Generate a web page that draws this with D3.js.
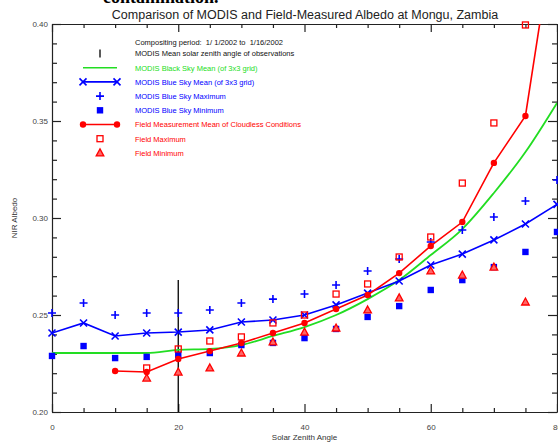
<!DOCTYPE html>
<html>
<head>
<meta charset="utf-8">
<script src="https://cdn.jsdelivr.net/npm/d3@7"></script>
<style>
  body { margin: 0; background: #fff; }
  svg { display: block; font-family: "Liberation Sans", Arial, sans-serif; }
</style>
</head>
<body>
<div id="chart"></div>
<script>
// data
const angles = [0, 5, 10, 15, 20, 25, 30, 35, 40, 45, 50, 55, 60, 65, 70, 75, 80];
const blueMean = [0.2407, 0.2459, 0.2392, 0.2407, 0.2412, 0.2423, 0.2464, 0.2474, 0.2500, 0.2552, 0.2613, 0.2675, 0.2758, 0.2814, 0.2887, 0.2969, 0.3070];
const blueMax = [0.2510, 0.2562, 0.2500, 0.2510, 0.2510, 0.2526, 0.2562, 0.2582, 0.2608, 0.2655, 0.2727, 0.2789, 0.2876, 0.2938, 0.3005, 0.3088, 0.3196];
const blueMin = [0.2289, 0.2340, 0.2278, 0.2284, 0.2294, 0.2304, 0.2345, 0.2356, 0.2381, 0.2428, 0.2490, 0.2546, 0.2629, 0.2680, 0.2747, 0.2825, 0.2928];
const blackSky = [0.2304, 0.2304, 0.2304, 0.2304, 0.2320, 0.2325, 0.2345, 0.2392, 0.2438, 0.2500, 0.2582, 0.2680, 0.2809, 0.2943, 0.3129, 0.3340, 0.3593];

const fieldAngles = [10, 15, 20, 25, 30, 35, 40, 45, 50, 55, 60, 65, 70, 75, 80];
const fieldMean = [0.2211, 0.2206, 0.2273, 0.2314, 0.2356, 0.2407, 0.2459, 0.2531, 0.2603, 0.2716, 0.2856, 0.2979, 0.3284, 0.3526, 0.4577];

const fieldExtAngles = [15, 20, 25, 30, 35, 40, 45, 50, 55, 60, 65, 70, 75];
const fieldMax = [0.2227, 0.2325, 0.2366, 0.2387, 0.2459, 0.2500, 0.2608, 0.2660, 0.2799, 0.2902, 0.3180, 0.3490, 0.3995];
const fieldMin = [0.2175, 0.2206, 0.2227, 0.2304, 0.2361, 0.2412, 0.2433, 0.2526, 0.2588, 0.2727, 0.2706, 0.2747, 0.2567];

const meanSZA = 20;
const meanSZATop = 0.268;

const xMajor = [0, 20, 40, 60, 80];
const xMinor = [5, 10, 15, 25, 30, 35, 45, 50, 55, 65, 70, 75];
const yMajor = [0.20, 0.25, 0.30, 0.35, 0.40];

const legendItems = [
  {label: 'MODIS Mean solar zenith angle of observations', color: '#000', kind: 'bar'},
  {label: 'MODIS Black Sky Mean (of 3x3 grid)', color: '#22dd22', kind: 'line'},
  {label: 'MODIS Blue Sky Mean (of 3x3 grid)', color: '#0000ff', kind: 'lineX'},
  {label: 'MODIS Blue Sky Maximum', color: '#0000ff', kind: 'plus'},
  {label: 'MODIS Blue Sky Minimum', color: '#0000ff', kind: 'fsquare'},
  {label: 'Field Measurement Mean of Cloudless Conditions', color: '#ff0000', kind: 'lineCircle'},
  {label: 'Field Maximum', color: '#ff0000', kind: 'osquare'},
  {label: 'Field Minimum', color: '#ff0000', kind: 'triangle'}
];

const W = 558, H = 446;
const pLeft = 52, pRight = 557, pTop = 24, pBottom = 412;
const BLUE = '#0000ff', RED = '#ff0000', GREEN = '#22dd22';

const x = d3.scaleLinear().domain([0, 80]).range([pLeft, pRight]);
const y = d3.scaleLinear().domain([0.2, 0.4]).range([pBottom, pTop]);

const svg = d3.select('#chart').append('svg')
  .attr('width', W)
  .attr('height', H);

// cut off caption from the page above
svg.append('text')
  .attr('x', 103).attr('y', 3)
  .style('font-family', '"Liberation Serif", serif')
  .style('font-weight', 'bold')
  .style('font-size', '18px')
  .text('contamination.');

svg.append('text')
  .attr('x', 305).attr('y', 19)
  .attr('text-anchor', 'middle')
  .style('font-size', '12.5px')
  .attr('fill', '#222')
  .text('Comparison of MODIS and Field-Measured Albedo at Mongu, Zambia');

svg.append('clipPath').attr('id', 'plot')
  .append('rect')
  .attr('x', pLeft).attr('y', pTop)
  .attr('width', pRight - pLeft).attr('height', pBottom - pTop);

// axes
function styleAxis(g) {
  g.selectAll('path, line').attr('stroke', '#222').attr('stroke-width', 1.2);
  g.selectAll('text').attr('fill', '#444').style('font-size', '8px').style('font-family', '"Liberation Sans", Arial, sans-serif');
}

svg.append('g').attr('transform', `translate(0,${pBottom})`)
  .call(d3.axisBottom(x).tickValues(xMajor).tickSizeInner(-8).tickSizeOuter(0).tickPadding(12).tickFormat(d3.format('d')))
  .call(styleAxis);
svg.append('g').attr('transform', `translate(0,${pBottom})`)
  .call(d3.axisBottom(x).tickValues(xMinor).tickSize(-4).tickFormat(''))
  .call(g => g.select('.domain').remove())
  .call(styleAxis);
svg.append('g').attr('transform', `translate(0,${pTop})`)
  .call(d3.axisTop(x).tickValues(xMajor).tickSizeInner(-8).tickSizeOuter(0).tickFormat(''))
  .call(styleAxis);
svg.append('g').attr('transform', `translate(0,${pTop})`)
  .call(d3.axisTop(x).tickValues(xMinor).tickSize(-4).tickFormat(''))
  .call(g => g.select('.domain').remove())
  .call(styleAxis);

const yMinor = d3.range(21, 40).map(v => v / 100).filter(v => Math.round(v * 100) % 5 !== 0);
svg.append('g').attr('transform', `translate(${pLeft},0)`)
  .call(d3.axisLeft(y).tickValues(yMajor).tickSizeInner(-9).tickSizeOuter(0).tickPadding(4).tickFormat(d3.format('.2f')))
  .call(styleAxis);
svg.append('g').attr('transform', `translate(${pLeft},0)`)
  .call(d3.axisLeft(y).tickValues(yMinor).tickSize(-5).tickFormat(''))
  .call(g => g.select('.domain').remove())
  .call(styleAxis);
svg.append('g').attr('transform', `translate(${pRight},0)`)
  .call(d3.axisRight(y).tickValues(yMajor).tickSizeInner(-9).tickSizeOuter(0).tickFormat(''))
  .call(styleAxis);
svg.append('g').attr('transform', `translate(${pRight},0)`)
  .call(d3.axisRight(y).tickValues(yMinor).tickSize(-5).tickFormat(''))
  .call(g => g.select('.domain').remove())
  .call(styleAxis);

svg.append('text')
  .attr('x', (pLeft + pRight) / 2).attr('y', 440)
  .attr('text-anchor', 'middle')
  .style('font-size', '8px').attr('fill', '#333')
  .text('Solar Zenith Angle');

svg.append('text')
  .attr('transform', `translate(17,${(pTop + pBottom) / 2}) rotate(-90)`)
  .attr('text-anchor', 'middle')
  .style('font-size', '8px').attr('fill', '#333')
  .text('NIR Albedo');

// marker helpers
function drawMarker(g, kind, cx, cy, color) {
  if (kind === 'x') {
    const s = 3.5;
    g.append('path').attr('d', `M${cx - s},${cy - s}L${cx + s},${cy + s}M${cx - s},${cy + s}L${cx + s},${cy - s}`)
      .attr('stroke', color).attr('stroke-width', 1.6).attr('fill', 'none');
  } else if (kind === 'plus') {
    const s = 4;
    g.append('path').attr('d', `M${cx - s},${cy}L${cx + s},${cy}M${cx},${cy - s}L${cx},${cy + s}`)
      .attr('stroke', color).attr('stroke-width', 1.6).attr('fill', 'none');
  } else if (kind === 'fsquare') {
    g.append('rect').attr('x', cx - 3.2).attr('y', cy - 3.2).attr('width', 6.4).attr('height', 6.4)
      .attr('fill', color);
  } else if (kind === 'osquare') {
    g.append('rect').attr('x', cx - 3).attr('y', cy - 3).attr('width', 6).attr('height', 6)
      .attr('fill', 'none').attr('stroke', color).attr('stroke-width', 1.3);
  } else if (kind === 'circle') {
    g.append('circle').attr('cx', cx).attr('cy', cy).attr('r', 3.2).attr('fill', color);
  } else if (kind === 'triangle') {
    g.append('path').attr('d', `M${cx},${cy - 4}L${cx + 3.8},${cy + 3}L${cx - 3.8},${cy + 3}Z`)
      .attr('fill', '#ff6666').attr('stroke', color).attr('stroke-width', 1.3);
  }
}

const plot = svg.append('g');
const lines = plot.append('g').attr('clip-path', 'url(#plot)');

// mean solar zenith angle
lines.append('line')
  .attr('x1', x(meanSZA)).attr('x2', x(meanSZA))
  .attr('y1', y(0.2)).attr('y2', y(meanSZATop))
  .attr('stroke', '#000').attr('stroke-width', 1.3);

const blueData = angles.map((a, i) => ({a, mean: blueMean[i], max: blueMax[i], min: blueMin[i], sky: blackSky[i]}));
const fieldData = fieldAngles.map((a, i) => ({a, v: fieldMean[i]}));
const extData = fieldExtAngles.map((a, i) => ({a, max: fieldMax[i], min: fieldMin[i]}));

lines.append('path').datum(blueData)
  .attr('d', d3.line().x(d => x(d.a)).y(d => y(d.sky)).curve(d3.curveMonotoneX))
  .attr('fill', 'none').attr('stroke', GREEN).attr('stroke-width', 1.8);
lines.append('path').datum(blueData)
  .attr('d', d3.line().x(d => x(d.a)).y(d => y(d.mean)))
  .attr('fill', 'none').attr('stroke', BLUE).attr('stroke-width', 1.6);
lines.append('path').datum(fieldData)
  .attr('d', d3.line().x(d => x(d.a)).y(d => y(d.v)))
  .attr('fill', 'none').attr('stroke', RED).attr('stroke-width', 1.6);

const marks = plot.append('g');
blueData.forEach(d => {
  drawMarker(marks, 'x', x(d.a), y(d.mean), BLUE);
  drawMarker(marks, 'plus', x(d.a), y(d.max), BLUE);
  drawMarker(marks, 'fsquare', x(d.a), y(d.min), BLUE);
});
extData.forEach(d => {
  drawMarker(marks, 'osquare', x(d.a), y(d.max), RED);
  drawMarker(marks, 'triangle', x(d.a), y(d.min), RED);
});
fieldData.filter(d => d.v <= 0.4).forEach(d => {
  drawMarker(marks, 'circle', x(d.a), y(d.v), RED);
});

// legend
const legend = svg.append('g');
legend.append('text')
  .attr('x', 135).attr('y', 45)
  .style('font-size', '7.5px').attr('fill', '#111')
  .attr('xml:space', 'preserve')
  .text('Compositing period:  1/ 1/2002 to  1/16/2002');

legendItems.forEach((item, i) => {
  const cy = 53.5 + i * 14.2;
  const g = legend.append('g');
  if (item.kind === 'bar') {
    g.append('line').attr('x1', 100).attr('x2', 100).attr('y1', cy - 4).attr('y2', cy + 4)
      .attr('stroke', item.color).attr('stroke-width', 1.3);
  } else if (item.kind === 'line' || item.kind === 'lineX' || item.kind === 'lineCircle') {
    g.append('line').attr('x1', 83).attr('x2', 117).attr('y1', cy).attr('y2', cy)
      .attr('stroke', item.color).attr('stroke-width', 1.6);
    if (item.kind === 'lineX') {
      drawMarker(g, 'x', 83, cy, item.color);
      drawMarker(g, 'x', 117, cy, item.color);
    }
    if (item.kind === 'lineCircle') {
      drawMarker(g, 'circle', 83, cy, item.color);
      drawMarker(g, 'circle', 117, cy, item.color);
    }
  } else {
    drawMarker(g, item.kind, 100, cy, item.color);
  }
  g.append('text')
    .attr('x', 135).attr('y', cy + 2.8)
    .style('font-size', '7.5px')
    .attr('fill', item.color === '#000' ? '#111' : item.color)
    .text(item.label);
});
</script>
</body>
</html>
